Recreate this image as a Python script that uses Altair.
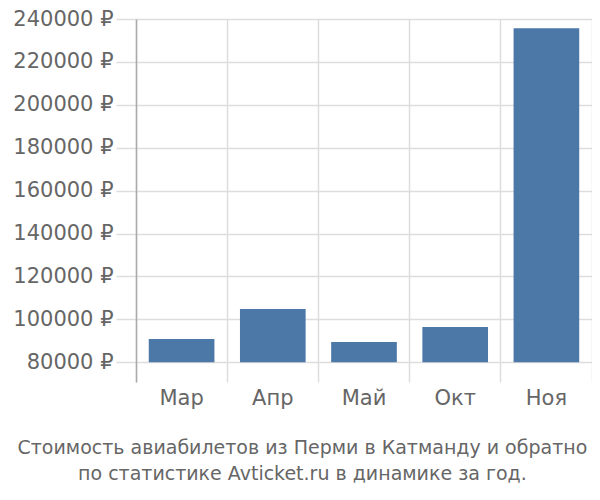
import altair as alt
import pandas as pd

months = ["Мар", "Апр", "Май", "Окт", "Ноя"]
prices = [90900, 104850, 89400, 96400, 235700]
y_ticks = [80000, 100000, 120000, 140000, 160000, 180000, 200000, 220000, 240000]
title_lines = ["Стоимость авиабилетов из Перми в Катманду и обратно",
               "по статистике Avticket.ru в динамике за год."]

df = pd.DataFrame({"month": months, "price": prices})

FONT = "DejaVu Sans"
GRID = "#dddddd"
TXT = "#666666"

yscale = alt.Scale(domain=[70800, 240000], zero=False, nice=False)

xenc = alt.X(
    "month:N", sort=months,
    scale=alt.Scale(paddingInner=0, paddingOuter=0),
    axis=alt.Axis(title=None, domain=False, ticks=False, grid=True, bandPosition=0,
                  gridColor=GRID, gridWidth=1.5, labelFont=FONT, labelFontSize=21,
                  labelColor=TXT, labelPadding=5, labelAngle=0),
)

bars = alt.Chart(df).mark_bar(color="#4c78a8", width=alt.RelativeBandSize(0.72)).encode(
    x=xenc,
    y=alt.Y("price:Q", scale=yscale,
            axis=alt.Axis(title=None, values=y_ticks, labelExpr="datum.value + ' ₽'",
                          grid=True, gridColor=GRID, gridWidth=1.5,
                          tickColor=GRID, tickSize=20, tickWidth=1.5,
                          domainColor="#aaaaaa", domainWidth=1.5,
                          labelFont=FONT, labelFontSize=21, labelColor=TXT,
                          labelPadding=3)),
    y2=alt.datum(80000),
)

right = alt.Chart(df).mark_point(opacity=0).encode(
    x=alt.X("month:N", sort=months),
    y=alt.Y("price:Q", scale=yscale,
            axis=alt.Axis(orient="right", title=None, labels=False, ticks=False, grid=False,
                          domainColor=GRID, domainWidth=1.5)),
)

chart = alt.layer(bars, right).resolve_axis(y="independent").properties(
    width=456, height=363,
    padding={"left": 128, "top": 11, "right": 0, "bottom": 110},
    autosize=alt.AutoSizeParams(type="none"),
    title=alt.TitleParams(text=title_lines, orient="bottom", anchor="middle", frame="bounds",
                          font=FONT, fontSize=19, fontWeight="normal", color=TXT,
                          lineHeight=26, offset=31),
).configure_view(stroke=None)

chart.save("out.html", embed_options={"renderer": "svg", "actions": False})
